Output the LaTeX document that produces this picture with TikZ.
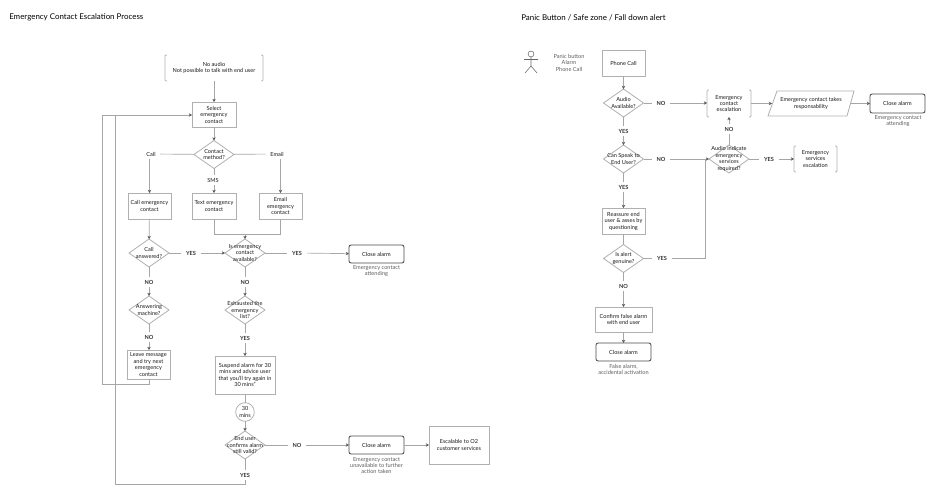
\documentclass[tikz,border=0pt]{standalone}
\usepackage{fontspec}
\setmainfont{Lato}
\usetikzlibrary{shapes.geometric,arrows.meta,calc}
\definecolor{ln}{HTML}{A6A6A6}
\definecolor{bx}{HTML}{B0B0B0}
\definecolor{ink}{HTML}{1A1A1A}
\definecolor{cap}{HTML}{5E5E5E}
\tikzset{
 txt/.style={font=\fontsize{4.2}{4.85}\selectfont,text=ink,align=center,inner sep=0pt,outer sep=0pt},
 capt/.style={txt,text=cap},
 lbl/.style={txt,inner xsep=3.6pt,inner ysep=2.4pt},
 lblb/.style={lbl,font=\fontsize{4.2}{4.85}\selectfont\bfseries,text=black!80},
 title/.style={font=\fontsize{5.95}{6.5}\selectfont,text=black,anchor=west,inner sep=0pt},
 boxs/.style={txt,draw=bx,line width=.6pt},
 closes/.style={txt,draw=black!70,line width=.65pt,rounded corners=1.6pt},
 ghost/.style={txt},
 dia/.style={diamond,draw=bx,line width=.6pt,inner sep=0pt,outer sep=0pt,minimum width=30pt,minimum height=21pt},
 conn/.style={draw=ln,line width=.5pt},
 arr/.style={conn,-{Stealth[length=2.4pt,width=2.6pt,color=black!65]}},
 brk/.style={draw=bx,line width=.6pt,rounded corners=.8pt},
 fig/.style={draw=black!60,line width=.4pt},
}
% name, x1, y1, x2, y2, style, text (pixel coordinates)
\newcommand\bxn[7]{\node[#6,minimum width={(#4-#2)*.75pt},minimum height={(#5-#3)*.75pt}] (#1) at ({(#2+#4)/2},{(#3+#5)/2}) {#7};}
\newcommand\dec[4]{\node[dia] (#1) at (#2,#3) {}; \node[txt] (#1t) at (#2,#3) {#4};}
\newcommand\lab[4]{\node[lbl] (#1) at (#2,#3) {#4};}
\newcommand\labb[4]{\node[lblb] (#1) at (#2,#3) {#4};}
\newcommand\brkt[1]{\draw[brk] ($(#1.north west)+(2,0)$) -- (#1.north west) -- (#1.south west) -- ($(#1.south west)+(2,0)$);
 \draw[brk] ($(#1.north east)+(-2,0)$) -- (#1.north east) -- (#1.south east) -- ($(#1.south east)+(-2,0)$);}
\begin{document}
\begin{tikzpicture}[x=.75pt,y=-.75pt]
\useasboundingbox (0,0) rectangle (940,491);
\fill[white] (0,0) rectangle (940,491);
\node[title] (t1) at (9,17.7) {Emergency Contact Escalation Process};
\node[title] (t2) at (521,17.7) {Panic Button / Safe zone / Fall down alert};

% ---- left flow
\bxn{noaudio}{165}{55}{263}{81}{ghost}{No audio\\Not possible to talk with end user}
\brkt{noaudio}
\bxn{select}{192}{102}{236}{127}{boxs}{Select\\emergency\\contact}
\dec{contact}{214}{154.5}{Contact\\method?}
\lab{lcall}{151}{154}{Call}
\lab{lemail}{277}{154}{Email}
\lab{lsms}{213}{180}{SMS}
\bxn{callb}{128}{193}{171}{219}{boxs}{Call emergency\\contact}
\bxn{textb}{192}{193}{236}{219}{boxs}{Text emergency\\contact}
\bxn{emailb}{259}{193}{302}{219}{boxs}{Email\\emergency\\contact}
\coordinate (merge) at (245,234);
\dec{answered}{149}{253}{Call\\answered?}
\labb{lyes1}{191}{253}{YES}
\dec{avail}{245}{253}{Is emergency\\contact\\available?}
\labb{lyes2}{297}{253}{YES}
\bxn{close1}{349}{245}{404}{263}{closes}{Close alarm}
\node[capt] (cap1) at (376.5,271) {Emergency contact\\attending};
\labb{lno1}{149}{282}{NO}
\labb{lno2}{245}{282}{NO}
\dec{machine}{149}{310}{Answering\\machine?}
\dec{exhaust}{245}{310}{Exhausted the\\emergency\\list?}
\labb{lno3}{149}{337}{NO}
\labb{lyes3}{245}{338}{YES}
\bxn{leave}{127}{350}{170}{379}{boxs}{Leave message\\and try next\\emergency\\contact}
\bxn{suspend}{215}{356}{275}{394}{boxs}{Suspend alarm for 30\\mins and advice user\\that you'll try again in\\30 mins"}
\node[txt,circle,draw=bx,line width=.6pt,minimum size=14pt] (wait) at (245,412) {30\\mins};
\dec{confirm}{245}{445}{End user\\confirms alarm\\still valid?}
\labb{lno4}{297}{445}{NO}
\labb{lyes4}{245}{475}{YES}
\bxn{close2}{349}{436}{404}{454}{closes}{Close alarm}
\node[capt] (cap2) at (376.5,465.5) {Emergency contact\\unavailable to further\\action taken};
\bxn{o2}{429}{426}{489}{464}{boxs}{Escalable to O2\\customer services}
\coordinate (loopA) at (102,384);
\coordinate (loopB) at (102,115);
\coordinate (loopC) at (115,484);
\coordinate (loopD) at (115,115);

\draw[arr] (noaudio) -- (select);
\draw[arr] (select) -- (contact);
\draw[conn] (contact) -- (lcall);
\draw[arr] (lcall.south -| callb.north) -- (callb);
\draw[conn] (contact) -- (lemail);
\draw[arr] (lemail.south -| emailb.north) -- (emailb);
\draw[conn] (contact) -- (lsms.north -| contact.south);
\draw[arr] (lsms.south -| textb.north) -- (textb);
\draw[conn] (textb) |- (merge);
\draw[conn] (emailb) |- (merge);
\draw[arr] (merge) -- (avail);
\draw[arr] (callb) -- (answered);
\draw[conn] (answered) -- (lyes1);
\draw[arr] (lyes1) -- (avail);
\draw[conn] (avail) -- (lyes2);
\draw[arr] (lyes2) -- (close1);
\draw[conn] (answered) -- (lno1);
\draw[arr] (lno1) -- (machine);
\draw[conn] (avail) -- (lno2);
\draw[arr] (lno2) -- (exhaust);
\draw[conn] (machine) -- (lno3);
\draw[arr] (lno3) -- (leave.north -| lno3);
\draw[conn] (exhaust) -- (lyes3);
\draw[arr] (lyes3) -- (suspend);
\draw[conn] (suspend) -- (wait);
\draw[arr] (wait) -- (confirm);
\draw[conn] (confirm) -- (lno4);
\draw[arr] (lno4) -- (close2);
\draw[arr] (close2) -- (o2.west |- close2);
\draw[conn] (confirm) -- (lyes4);
\draw[conn] (lyes4) |- (loopC) -- (loopD);
\draw[arr] (leave.south -| lno3) |- (loopA) -- (loopB) -- (select.west |- loopB);

% ---- right flow
\node[circle,fig,minimum size=4.4pt,inner sep=0pt] (head) at (531,54) {};
\coordinate (hip) at (531,66);
\coordinate (armL) at (524,59.5);
\coordinate (armR) at (538,59.5);
\coordinate (footL) at (525,73);
\coordinate (footR) at (537,73);
\draw[fig] (head) -- (hip) (armL) -- (armR) (footL) -- (hip) -- (footR);
\node[capt] (actorT) at (569,62.5) {Panic button\\Alarm\\Phone Call};
\bxn{phone}{602}{50}{645}{76}{boxs}{Phone Call}
\dec{audio}{623.5}{103}{Audio\\Available?}
\labb{rno1}{661}{103}{NO}
\labb{ryes1}{623.5}{131}{YES}
\bxn{esc}{707}{90}{751}{117}{ghost}{Emergency\\contact\\escalation}
\brkt{esc}
\coordinate (parW) at (772,103.5);
\coordinate (parE) at (851,103.5);
\node[txt] (par) at (811,103.5) {Emergency contact takes\\responsability};
\coordinate (pa) at (768,116);
\coordinate (pb) at (777,91);
\coordinate (pc) at (854,91);
\coordinate (pd) at (847,116);
\draw[boxs] (pa) -- (pb) -- (pc) -- (pd) -- cycle;
\bxn{close3}{870}{94}{925}{113}{closes}{Close alarm}
\node[capt] (cap3) at (898,121) {Emergency contact\\attending};
\dec{speak}{623.5}{159}{Can Speak to\\End User?}
\labb{rno2}{661}{159}{NO}
\dec{indicate}{729}{159}{Audio indicate\\emergency\\services\\required?}
\labb{rno3}{729}{129}{NO}
\labb{ryes2}{769}{159}{YES}
\bxn{serv}{794}{146}{837}{172}{ghost}{Emergency\\services\\escalation}
\brkt{serv}
\labb{ryes3}{623.5}{187}{YES}
\bxn{reassure}{602}{208}{645}{234}{boxs}{Reassure end\\user \& asses by\\questioning}
\dec{genuine}{623.5}{258.5}{Is alert\\genuine?}
\labb{ryes4}{662}{258.5}{YES}
\coordinate (join) at (705,159);
\labb{rno4}{623.5}{286}{NO}
\bxn{falsebox}{595}{307}{652}{332}{boxs}{Confirm false alarm\\with end user}
\bxn{close4}{596}{343}{651}{361}{closes}{Close alarm}
\node[capt] (cap4) at (623.5,369.5) {False alarm,\\accidental activation};

\draw[arr] (phone) -- (audio);
\draw[conn] (audio) -- (rno1);
\draw[arr] (rno1) -- (esc.west |- rno1);
\draw[conn] (audio) -- (ryes1);
\draw[arr] (ryes1) -- (speak);
\draw[arr] (esc.east |- parW) -- (parW);
\draw[arr] (parE) -- (close3.west |- parE);
\draw[conn] (speak) -- (rno2);
\draw[arr] (rno2) -- (indicate);
\draw[conn] (indicate) -- (rno3);
\draw[arr] (rno3) -- (esc);
\draw[conn] (indicate) -- (ryes2);
\draw[arr] (ryes2) -- (serv.west |- ryes2);
\draw[conn] (speak) -- (ryes3);
\draw[arr] (ryes3) -- (reassure);
\draw[conn] (reassure) -- (genuine);
\draw[conn] (genuine) -- (ryes4);
\draw[conn] (ryes4) -| (join);
\draw[conn] (genuine) -- (rno4);
\draw[arr] (rno4) -- (falsebox);
\draw[arr] (falsebox) -- (close4);
\end{tikzpicture}
\end{document}
